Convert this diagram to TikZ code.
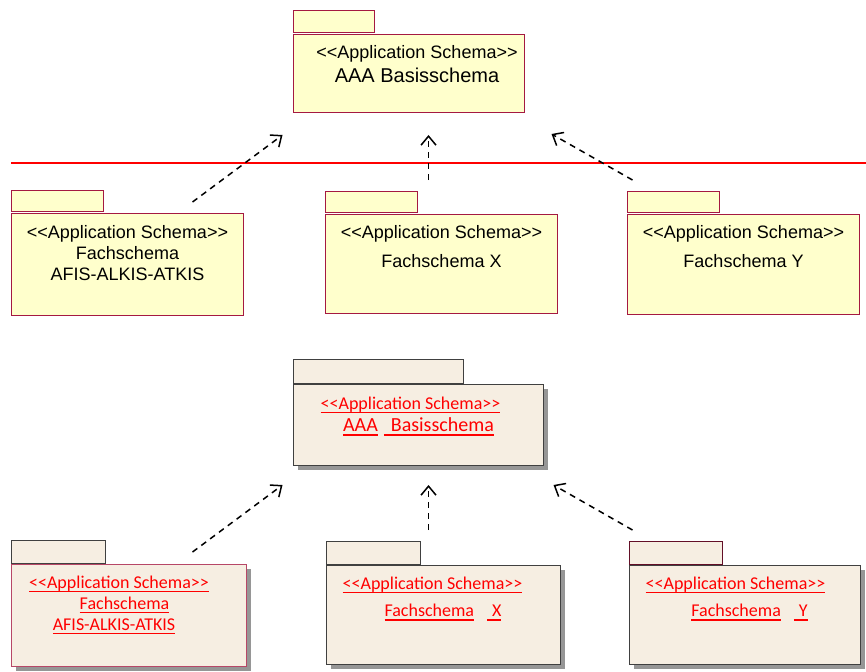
\documentclass[tikz,border=0pt]{standalone}
\usepackage{fontspec}
\setmainfont{Liberation Sans}
\newfontfamily\calibri{Carlito}
\usetikzlibrary{arrows.meta,%
                shadows}

\definecolor{paketgelb}{RGB}{255,255,204}
\definecolor{paketrand}{RGB}{165,25,65}
\definecolor{paketbeige}{RGB}{246,238,226}
\definecolor{beigerand}{RGB}{64,64,64}
\definecolor{schatten}{RGB}{150,150,150}

% Unterstreichung wie im Word-Export
\newcommand\ulinie[1]{\setbox0\hbox{#1}\rlap{\rule[-4pt]{\wd0}{1.6pt}}\box0}
% Stereotyp ohne Ligatur
\newcommand\stereo[1]{{<}{<}#1{>}{>}}

\begin{document}
\begin{tikzpicture}[x=1pt,y=-1pt,>={Straight Barb[length=9pt,width=15pt]}]
  \tikzset{gelb/.style  = {draw=paketrand, fill=paketgelb, line width=1pt,
                           inner sep=0pt, anchor=north west}}
  \tikzset{beige/.style = {draw=beigerand, fill=paketbeige, line width=1pt,
                           inner sep=0pt, anchor=north west}}
  \tikzset{reiter/.style = {anchor=south west}}
  \tikzset{schatten/.style = {drop shadow={shadow xshift=4pt, shadow yshift=-4pt,
                              fill=schatten, opacity=1}}}
  \tikzset{oben/.style  = {anchor=north, align=center, inner sep=0pt,
                           font=\fontsize{18}{21}\selectfont}}
  \tikzset{unten/.style = {anchor=north, align=center, inner sep=0pt, text=red,
                           font=\calibri\fontsize{18}{21}\selectfont}}
  \tikzset{abhaengig/.style = {->, dash pattern=on 6pt off 5pt, line width=1.5pt}}
  %\tikzstyle{trenner} = [draw,red]
  \tikzset{trenner/.style = {draw=red, line width=1.8pt}}

  \useasboundingbox (0,0) rectangle (866,671);

  % obere Haelfte
  \node[gelb, minimum width=231, minimum height=78] (Basis) at (293,34) {};
  \node[gelb, reiter, minimum width=81, minimum height=22] (BasisTab)
    at ([yshift=1pt]Basis.north west) {};
  \node[oben] (BasisText) at ([xshift=8pt,yshift=-11pt]Basis.north)
    {\stereo{Application Schema}\\[3pt]{\fontsize{20}{24}\selectfont AAA Basisschema}};

  \node[gelb, minimum width=232, minimum height=102] (Fach) at (11,213) {};
  \node[gelb, reiter, minimum width=92, minimum height=21] (FachTab)
    at ([yshift=1pt]Fach.north west) {};
  \node[oben] (FachText) at ([yshift=-11.8pt]Fach.north)
    {\stereo{Application Schema}\\Fachschema\\AFIS-ALKIS-ATKIS};

  \node[gelb, minimum width=232, minimum height=99] (FachX) at (325,214) {};
  \node[gelb, reiter, minimum width=92, minimum height=21] (FachXTab)
    at ([yshift=1pt]FachX.north west) {};
  \node[oben] (FachXText) at ([yshift=-11.4pt]FachX.north)
    {\stereo{Application Schema}\\[7.5pt]Fachschema X};

  \node[gelb, minimum width=232, minimum height=100] (FachY) at (627,214) {};
  \node[gelb, reiter, minimum width=92, minimum height=21] (FachYTab)
    at ([yshift=1pt]FachY.north west) {};
  \node[oben] (FachYText) at ([yshift=-11.4pt]FachY.north)
    {\stereo{Application Schema}\\[7.5pt]Fachschema Y};

  \draw[trenner] (11,163) -- (866,163);

  \draw[abhaengig] ([xshift=65pt,yshift=11pt]Fach.north)
    -- ([xshift=-126.5pt,yshift=-22pt]Basis.south);
  \draw[abhaengig] ([xshift=-13pt,yshift=34pt]FachX.north)
    -- ([xshift=19.5pt,yshift=-22pt]Basis.south);
  \draw[abhaengig] ([xshift=-111pt,yshift=34pt]FachY.north)
    -- ([xshift=142.5pt,yshift=-21pt]Basis.south);

  % untere Haelfte
  \node[beige, schatten, minimum width=250, minimum height=81] (BasisB) at (293,384) {};
  \node[beige, reiter, minimum width=170, minimum height=24] (BasisBTab)
    at (BasisB.north west) {};
  \node[unten] (BasisBText) at ([xshift=-8pt,yshift=-12.7pt]BasisB.north)
    {\ulinie{\stereo{Application Schema}}\\[1.5pt]%
     \hspace*{16pt}{\fontsize{20}{24}\selectfont\ulinie{AAA}\hspace{6pt}\ulinie{\hspace{7pt}Basisschema}}};

  \node[beige, schatten, draw=paketrand!80, minimum width=235, minimum height=102] (FachB)
    at (11,564) {};
  \node[beige, reiter, minimum width=94, minimum height=23] (FachBTab)
    at (FachB.north west) {};
  \node[unten] (FachBText) at ([xshift=-10pt,yshift=-11.4pt]FachB.north)
    {\ulinie{\stereo{Application Schema}}\\\hspace*{11pt}\ulinie{Fachschema}\\%
     \ulinie{AFIS-ALKIS-ATKIS}\hspace*{10pt}};

  \node[beige, schatten, minimum width=234, minimum height=99] (FachXB) at (326,565) {};
  \node[beige, reiter, minimum width=94, minimum height=23] (FachXBTab)
    at (FachXB.north west) {};
  \node[unten] (FachXBText) at ([xshift=-11pt,yshift=-11.4pt]FachXB.north)
    {\ulinie{\stereo{Application Schema}}\\[6.5pt]%
     \hspace*{21pt}\ulinie{Fachschema}\hspace{13pt}\ulinie{\hspace{5pt}X}};

  \node[beige, schatten, minimum width=231, minimum height=99] (FachYB) at (629,565) {};
  \node[beige, reiter, draw=paketrand!60!black, minimum width=93, minimum height=23]
    (FachYBTab) at (FachYB.north west) {};
  \node[unten] (FachYBText) at ([xshift=-9.5pt,yshift=-11.4pt]FachYB.north)
    {\ulinie{\stereo{Application Schema}}\\[6.5pt]%
     \hspace*{28pt}\ulinie{Fachschema}\hspace{13pt}\ulinie{\hspace{5pt}Y}};

  \draw[abhaengig] ([xshift=63.5pt,yshift=12pt]FachB.north)
    -- ([xshift=-136pt,yshift=-19pt]BasisB.south);
  \draw[abhaengig] ([xshift=-15pt,yshift=35pt]FachXB.north)
    -- ([xshift=10pt,yshift=-19pt]BasisB.south);
  \draw[abhaengig] ([xshift=-112.5pt,yshift=35pt]FachYB.north)
    -- ([xshift=135pt,yshift=-19pt]BasisB.south);

\end{tikzpicture}
\end{document}
